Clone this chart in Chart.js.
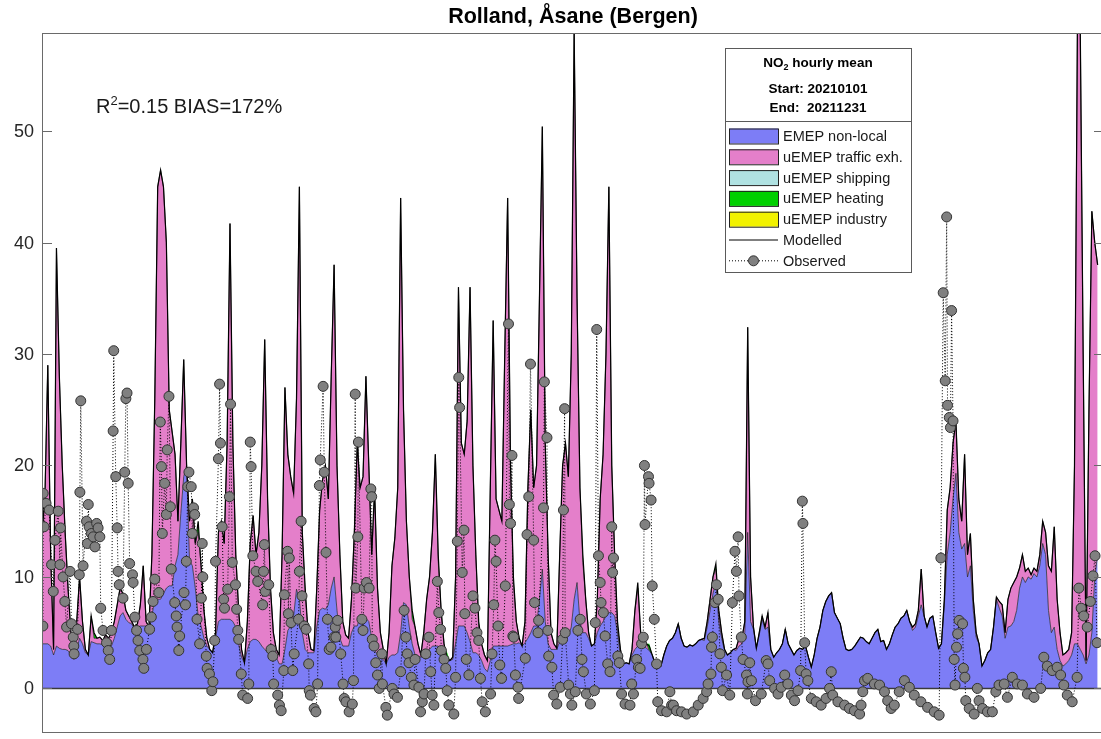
<!DOCTYPE html>
<html>
<head>
<meta charset="utf-8">
<title>Rolland, Åsane (Bergen)</title>
<script src="https://cdn.jsdelivr.net/npm/chart.js@4.4.1/dist/chart.umd.min.js"></script>
<style>
    html, body { margin: 0; padding: 0; overflow: hidden; background: #fff; }
    #wrap { position: relative; width: 1110px; height: 739px; }
</style>
</head>
<body>
<div id="wrap"><canvas id="myChartNO2"></canvas></div>
<script>
const TITLE = 'Rolland, Åsane (Bergen)'
const Y_TICKS = [0, 10, 20, 30, 40, 50]
const Y_MIN = -4.0
const Y_MAX = 58.8
const X_MAX = 367.2   // days, the right edge of the axes sits just outside the picture

// modelled total, one value per day (0..365)
const modelled = [
    14, 17, 29, 12, 3.5, 39.5, 28, 20, 14, 9,
    5, 2.8, 6, 10, 6, 3.5, 3, 6.5, 5, 4.5,
    4.6, 4.3, 4.8, 4.5, 5, 6, 7.5, 9, 8.5, 7,
    6.5, 6, 5.5, 5.8, 7.5, 11, 6, 5.5, 12, 26,
    45, 46.5, 45, 40, 25, 23, 21, 15, 22, 29.5,
    20, 15, 17, 13, 15, 11, 7, 4.5, 3.5, 3.2,
    5, 14, 15, 13, 22, 41.7, 22, 12, 7, 3.5,
    2.3, 6, 13, 15.5, 12, 14, 20, 31.3, 17, 9,
    5, 3.5, 3, 12, 27, 21, 19, 17.5, 26, 45,
    14, 9, 5, 3.5, 3.4, 9, 16, 18.7, 20, 17,
    28, 38, 20, 12, 6, 4.8, 4.5, 8, 14, 22,
    18, 19, 28, 20, 12, 18, 9, 5, 3.5, 2.2,
    5, 11, 13.5, 18, 44, 25, 15, 10, 7, 5.5,
    4, 3, 5, 8, 10, 14, 21, 12, 7, 4,
    2.8, 2.5, 2.8, 10, 36, 22, 21, 24, 36, 20,
    12, 6, 4, 3, 2.5, 18, 33, 17, 16, 15,
    30, 44, 20, 10, 6, 4.5, 3.8, 6, 18, 25,
    18, 20, 35, 50.4, 22, 12, 5, 4, 3.6, 12,
    20, 22, 19, 30, 59, 35, 18, 12, 8, 5,
    3.8, 4, 8, 17, 21, 30, 45, 20, 12, 6,
    3.5, 2.2, 2.3, 2.2, 3.5, 7, 9.5, 5, 4.5, 4,
    3.8, 3, 2.2, 1.8, 2, 3, 3.8, 4.3, 4.5, 5,
    5.8, 4.5, 3.8, 3.7, 3.9, 3.8, 4, 4.3, 4.4, 4.5,
    6, 8, 10, 11.2, 7, 5, 3.5, 3, 3.2, 3.5,
    3.6, 4.5, 4.5, 6, 32.4, 10, 5.5, 3.6, 5, 6.5,
    5.5, 6.8, 3.5, 2.8, 3.2, 3.5, 4, 5.3, 4, 3.5,
    3, 3.4, 3.6, 3.5, 3.8, 2.8, 1.9, 3, 4.5, 5.5,
    7, 7.8, 8.3, 8.6, 6.8, 6.3, 5.8, 4.5, 3.5, 3.4,
    3.5, 3.8, 4.2, 4.6, 4.5, 4.2, 4, 4.5, 5, 5.3,
    4.2, 4.3, 3.5, 4, 4.8, 5.5, 5.8, 6.3, 6.5, 7,
    6, 5.5, 5.8, 7, 10.7, 6.5, 5.5, 6.3, 6.5, 5,
    3.6, 4, 8, 16, 18, 22, 24, 17, 15, 21,
    12, 13.9, 8, 5, 4, 2, 2.5, 3.2, 3.5, 5.5,
    8.2, 7.8, 7.5, 5, 8, 9, 9.5, 10, 10.8, 12,
    10.5, 10.8, 10.2, 10.8, 10.5, 12, 15, 14, 11, 10.5,
    14.5, 8, 5, 3, 3.2, 3.5, 5, 20, 59, 59,
    30, 2.5, 25, 42.8, 40, 38
]

// EMEP non-local part, same days
const nonLocal = [
    4, 4, 4, 3.8, 3, 3.8, 3.6, 3.5, 3.5, 3.4,
    3, 2.6, 3.5, 4.5, 4, 3.2, 3, 4.2, 4.1, 4,
    4, 3.9, 3.8, 3.8, 3.8, 4.5, 5.5, 6.5, 6.8, 6.2,
    5.9, 5.8, 5.3, 5.5, 5.6, 5.6, 5.6, 5.3, 6.5, 8,
    8, 8, 8.5, 9, 9.2, 9.2, 11, 12, 15.7, 19,
    20, 11.5, 11, 9, 6.5, 5.6, 4.5, 3.8, 3.5, 3.2,
    4.5, 6, 6.2, 6.2, 6.2, 6.2, 6, 5.5, 4, 2.8,
    2.3, 3.5, 4.2, 4.4, 4.4, 4.2, 3.8, 3.5, 3.2, 3.2,
    3, 2.8, 2.2, 2.2, 3.5, 5.2, 5.6, 6.5, 8.9, 8,
    5, 3.5, 3.2, 3.2, 3.2, 5.5, 7, 7.2, 7.1, 7.5,
    9, 10, 7, 4.5, 3.8, 3.8, 3.8, 5, 5.6, 5.6,
    6.5, 6.5, 6.3, 6, 4.5, 3.5, 3, 2.8, 2.6, 2.2,
    2.8, 3, 3, 3.2, 5, 7.7, 7.5, 5.5, 4, 3,
    2.9, 2.8, 2.9, 3.2, 3.5, 3.8, 3.8, 3.8, 3.5, 3,
    2.8, 2.5, 2.6, 4, 5.6, 5.6, 5.6, 5, 4.2, 3.2,
    3.2, 3, 2.5, 1.8, 1.5, 2.5, 3.8, 3.8, 3.8, 3.8,
    3.8, 3.8, 3.9, 4, 4, 4.1, 3.8, 4.1, 4.5, 5,
    5.6, 5.6, 8, 10.7, 6, 4, 3.5, 3.5, 3.5, 4.2,
    4.7, 4.7, 4.7, 5.5, 8, 9.5, 6, 5, 5, 4.5,
    3.8, 4, 5, 5.6, 6, 6.5, 6.8, 6.8, 6.5, 5,
    2.8, 2.2, 2.3, 2.2, 3, 3.5, 3.8, 3.8, 3.8, 3.6,
    3.4, 3, 2.2, 1.8, 2, 3, 3.8, 4.3, 4.5, 5,
    5.8, 4.5, 3.8, 3.7, 3.9, 3.8, 4, 4.3, 4.4, 4.3,
    5.5, 7, 8.5, 9.5, 6, 4.5, 3.4, 3, 3.2, 3.5,
    3.4, 3.8, 4, 5, 14, 6, 5.3, 3.6, 4.8, 6.2,
    5.3, 5.5, 3.4, 2.8, 3.2, 3.5, 4, 5.3, 4, 3.5,
    3, 3.4, 3.6, 3.5, 3.8, 2.8, 1.9, 3, 4.5, 5.5,
    7, 7.8, 8.3, 8.6, 6.8, 6.3, 5.8, 4.5, 3.5, 3.4,
    3.5, 3.8, 4.2, 4.6, 4.5, 4.2, 4, 4.5, 5, 5.3,
    4.2, 4.3, 3.5, 4, 4.8, 5.5, 5.8, 6.3, 6.5, 7,
    6, 5.2, 5.5, 6.5, 7.5, 6.5, 5.5, 6.3, 6.5, 5,
    3.6, 4, 7.5, 12, 14, 17, 19.3, 14, 12.5, 13,
    10, 11, 7, 4.6, 4, 2, 2.5, 3.2, 3.5, 5.5,
    8, 7.2, 6.5, 4.5, 5.5, 5.6, 6, 7, 9, 10,
    9.5, 10, 9.8, 10.3, 10, 11, 13, 12, 7, 5,
    5.5, 3.5, 2.5, 2, 2.2, 2.5, 3, 4, 4, 3.5,
    3, 2.2, 3, 5, 10, 12
]

// small heating slivers (days and values), zero elsewhere
const heatingDays = [18, 54, 91, 115, 128, 137, 140, 151, 163, 187, 199, 206, 210, 233]
const heatingValues = [0.5, 1.0, 0.6, 0.6, 0.8, 0.6, 0.5, 0.6, 0.5, 0.7, 0.6, 0.5, 0.6, 0.5]

// observed
const obsDay = [
    0.3, 0.4, 0.7, 1.4, 2.5, 3.3, 3.9, 4.5, 5.6, 6.2,
    6.4, 7.3, 7.9, 8.5, 9.7, 10.2, 10.8, 11.0, 11.1, 12.3,
    12.9, 13.1, 13.4, 14.2, 15.4, 15.7, 16.0, 16.3, 17.1, 17.7,
    18.3, 18.9, 19.4, 20.0, 20.3, 21.1, 22.3, 22.9, 23.4, 24.0,
    24.6, 24.8, 25.5, 26.0, 26.3, 26.7, 28.0, 28.6, 29.0, 29.4,
    29.8, 30.3, 31.3, 31.5, 32.1, 32.7, 33.2, 33.8, 34.9, 35.2,
    36.1, 37.2, 37.8, 38.4, 39.0, 40.4, 40.9, 41.3, 41.6, 42.4,
    43.0, 43.3, 43.9, 44.4, 44.7, 45.9, 46.4, 46.7, 47.3, 47.6,
    49.1, 49.6, 49.9, 50.4, 50.8, 51.6, 52.0, 52.4, 52.8, 53.6,
    54.5, 55.1, 55.4, 55.6, 56.8, 57.1, 57.9, 58.7, 59.1, 59.7,
    60.0, 61.0, 61.4, 61.7, 62.3, 62.8, 63.1, 64.2, 64.8, 65.2,
    65.8, 66.9, 67.3, 67.7, 68.0, 68.9, 69.4, 71.1, 71.5, 72.0,
    72.3, 72.9, 74.0, 74.6, 76.3, 76.6, 76.9, 77.2, 78.4, 79.2,
    79.8, 80.1, 81.5, 82.1, 82.7, 83.6, 83.8, 84.9, 85.2, 85.5,
    86.1, 86.7, 87.2, 88.7, 89.0, 89.6, 89.9, 90.7, 91.3, 92.2,
    92.4, 92.8, 94.1, 94.7, 95.3, 95.9, 96.2, 97.2, 97.6, 98.2,
    98.7, 99.3, 99.9, 101.0, 101.4, 101.6, 102.2, 103.3, 104.1, 104.5,
    105.1, 106.2, 107.3, 107.7, 108.3, 108.5, 109.2, 109.4, 110.6, 111.0,
    111.4, 112.2, 113.1, 113.7, 114.0, 114.2, 114.8, 115.4, 116.0, 116.6,
    117.5, 117.7, 118.9, 119.4, 121.1, 121.7, 122.9, 124.0, 125.2, 125.8,
    126.3, 126.9, 127.7, 128.6, 129.0, 130.3, 130.9, 131.5, 132.1, 132.7,
    133.8, 134.4, 134.9, 135.5, 136.7, 137.2, 137.8, 138.1, 139.0, 139.6,
    140.1, 140.7, 142.4, 143.0, 143.6, 144.1, 144.4, 145.3, 145.9, 146.2,
    146.7, 147.6, 149.0, 149.7, 150.4, 151.0, 151.6, 152.2, 153.3, 155.1,
    155.6, 156.2, 156.6, 157.0, 157.7, 158.3, 158.9, 160.2, 161.3, 161.6,
    162.0, 162.5, 162.8, 163.1, 163.7, 164.6, 164.8, 167.1, 167.7, 168.3,
    168.9, 170.0, 170.3, 171.5, 171.7, 173.4, 173.7, 174.6, 174.9, 175.2,
    176.3, 176.9, 178.0, 179.2, 180.0, 180.3, 180.7, 180.9, 182.1, 182.7,
    183.2, 184.4, 185.3, 186.1, 186.7, 187.2, 188.2, 189.6, 191.0, 191.3,
    191.8, 192.4, 193.0, 193.3, 194.1, 194.7, 195.6, 196.4, 197.0, 197.3,
    197.6, 199.1, 199.6, 200.4, 201.6, 203.3, 203.9, 204.5, 205.6, 206.2,
    206.8, 207.3, 207.9, 208.3, 208.5, 209.7, 209.9, 210.6, 211.0, 211.7,
    212.5, 212.9, 214.2, 216.0, 217.1, 217.7, 218.3, 219.4, 221.1, 222.9,
    225.2, 226.9, 228.6, 229.8, 230.3, 231.3, 231.5, 231.8, 232.7, 233.2,
    233.8, 234.4, 234.9, 235.3, 236.7, 237.8, 238.7, 239.6, 240.1, 240.7,
    241.0, 241.8, 242.4, 243.6, 243.9, 244.1, 244.7, 245.3, 246.7, 248.7,
    250.4, 251.0, 251.6, 253.3, 254.5, 255.6, 256.8, 257.9, 259.1, 260.2,
    261.4, 262.3, 262.9, 263.1, 263.7, 264.2, 264.8, 266.0, 267.7, 269.4,
    271.1, 272.3, 272.9, 273.4, 275.2, 277.5, 279.2, 280.9, 282.7, 283.2,
    283.8, 284.4, 285.5, 287.8, 289.6, 291.3, 292.4, 293.6, 294.7, 296.4,
    298.2, 299.9, 301.6, 303.9, 306.2, 308.5, 310.2, 310.8, 311.6, 312.3,
    312.8, 313.1, 313.7, 314.1, 314.5, 315.0, 315.4, 315.7, 316.2, 316.6,
    317.1, 318.3, 318.6, 319.1, 319.4, 320.6, 322.3, 323.4, 324.0, 325.2,
    326.9, 328.6, 329.8, 330.9, 332.7, 333.8, 335.5, 337.2, 339.0, 340.7,
    343.0, 345.3, 346.4, 347.6, 349.3, 351.0, 352.2, 353.3, 354.5, 356.2,
    357.9, 358.5, 359.3, 360.2, 361.4, 362.5, 363.4, 364.1, 364.8
]
const obsValue = [
    5.6, 17.5, 14.5, 16.6, 16, 11.1, 8.7, 13.3, 15.9, 11.1,
    14.4, 10, 7.8, 5.5, 10.5, 5.8, 4.6, 3.8, 3.1, 5.3,
    10.2, 17.6, 25.8, 11, 15, 13, 16.5, 14.5, 13.9, 13.6,
    12.7, 14.8, 14.4, 13.6, 7.2, 5.2, 4.1, 3.4, 2.6, 5.2,
    23.1, 30.3, 19, 14.4, 10.5, 9.3, 8.1, 19.4, 26, 26.5,
    18.4, 11.2, 10.2, 9.5, 6.4, 5.2, 4.3, 3.4, 2.6, 1.8,
    3.5, 5.3, 6.4, 7.8, 9.8, 8.6, 23.9, 19.9, 13.9, 18.4,
    15.6, 21.4, 26.2, 16.3, 10.7, 7.7, 6.5, 5.5, 3.4, 4.7,
    8.6, 7.5, 11.4, 18.1, 19.4, 18.1, 13.9, 16.2, 15.6, 6.2,
    4, 8.1, 13, 10, 2.9, 1.8, 1.3, -0.2, 0.6, 4.3,
    11.4, 20.6, 27.3, 22, 14.5, 8, 7.2, 8.9, 17.2, 25.5,
    11.3, 9.3, 7.1, 5.2, 4.4, 1.3, -0.6, -0.9, 0.4, 22.1,
    19.9, 11.9, 10.5, 9.6, 7.5, 10.5, 12.9, 8.7, 9.3, 3.5,
    2.9, 0.4, -0.6, -1.5, -2, 1.6, 8.4, 12.3, 6.7, 11.7,
    5.9, 1.6, 3.1, 6.2, 10.5, 15, 8.3, 5.6, 5.3, 2.2,
    -0.2, -0.6, -1.8, -2.1, 0.4, 18.2, 20.5, 27.1, 19.4, 12.2,
    6.2, 3.5, 3.7, 4.6, 5.5, 4.6, 6.1, 3.1, 0.4, -0.9,
    -1.2, -2.1, -1.4, 0.7, 26.4, 9.0, 13.6, 22.1, 6.2, 5.2,
    9, 9.5, 9, 17.9, 17.2, 4.4, 3.8, 2.3, 1.2, 0,
    3.1, 0.4, -1.7, -2.4, 0, -0.5, -0.8, 1.5, 7, 4.6,
    3.1, 2.3, 1, 0.3, 2.6, 0.1, -2.1, -1.2, -0.5, 3.1,
    4.6, 1.5, -0.6, -1.5, 9.6, 6.8, 5.3, 3.4, 2.6, 1.8,
    -0.2, -1.5, -2.3, 1, 13.2, 27.9, 25.2, 10.4, 14.2, 6.7,
    2.6, 1.2, 8.3, 7.2, 5, 4.3, 0.9, -1.2, -2.1, -0.5,
    3.1, 7.5, 13.3, 11.4, 5.6, 2.1, 0.9, 9.2, 32.7, 16.5,
    14.8, 20.9, 4.7, 4.6, 1.2, 0.1, -0.9, 2.7, 13.8, 17.2,
    29.1, 13.3, 7.7, 5, 6.1, 16.2, 27.5, 22.5, 5.2, 2.9,
    1.9, -0.6, -1.4, 0.1, 4.4, 16, 25.1, 5, 0.3, -0.5,
    -1.5, -0.3, 5.2, 6.2, 2.6, 1.5, -0.5, -1.4, -0.2, 5.9,
    32.2, 11.9, 9.5, 7.7, 6.8, 4.7, 2.2, 1.5, 14.5, 10.4,
    11.7, 2.9, 2.3, -0.5, -1.4, -1.5, 0.4, -0.5, 2.6, 1.9,
    1.8, 4, 4.6, 20, 14.7, 19, 18.4, 16.9, 9.2, 6.2,
    2.2, -1.2, -2, -2.1, -0.3, -1.5, -1.5, -2, -2.1, -2.3,
    -2.1, -1.5, -0.9, -0.3, 0.4, 1.3, 3.7, 4.6, 7.7, 9.3,
    8, 3.1, 1.9, -0.2, 1.2, -0.6, 7.7, 12.3, 10.5, 13.6,
    8.3, 4.6, 2.6, 1.2, -0.5, 0.6, 2.3, 0.7, -1.1, -0.5,
    2.5, 2.2, 0.7, 0, -0.5, 0.1, 1.2, 0.4, -0.6, -1.1,
    -0.2, 1.6, 16.8, 14.8, 4.1, 1.3, 0.7, -0.9, -1.2, -1.5,
    -0.9, 0, 1.5, -0.6, -1.2, -1.5, -1.8, -2, -2.3, -1.5,
    -0.3, 0.7, 0.9, 0.4, 0.3, -0.3, -1.1, -1.8, -1.5, -0.3,
    0.7, 0.1, -0.6, -1.2, -1.7, -2.1, -2.4, 11.7, 35.5, 27.6,
    42.3, 25.4, 24.3, 23.4, 33.9, 24, 2.6, 0.3, 3.7, 4.9,
    6.1, 5.8, 1.8, 1, -1.1, -1.8, -2.3, 0, -1.1, -1.8,
    -2.1, -2.1, -0.3, 0.3, 0.4, -0.8, 1, 0.4, 0.3, -0.5,
    -0.8, 0, 2.8, 2, 1.6, 1.9, 1.2, 0.3, -0.6, -1.2,
    1, 9, 7.2, 6.5, 5.5, 7.8, 10.1, 11.9, 4.1
]

const COLORS = {
    nonLocal: '#7d7df6',
    traffic: '#e47fca',
    shipping: '#b0e2e2',
    heating: '#00d000',
    industry: '#f2f200',
    obs: '#808080'
}
const FONT = '"Liberation Sans", Arial, Helvetica, sans-serif'

const heating = modelled.map((v, i) => {
    const k = heatingDays.indexOf(i)
    return k < 0 ? 0 : heatingValues[k]
})
const traffic = modelled.map((v, i) => Math.max(0, v - nonLocal[i] - heating[i]))
const asPoints = arr => arr.map((v, i) => ({x: i, y: v}))

const legendItems = [
    {label: 'EMEP non-local', type: 'box', color: COLORS.nonLocal},
    {label: 'uEMEP traffic exh.', type: 'box', color: COLORS.traffic},
    {label: 'uEMEP shipping', type: 'box', color: COLORS.shipping},
    {label: 'uEMEP heating', type: 'box', color: COLORS.heating},
    {label: 'uEMEP industry', type: 'box', color: COLORS.industry},
    {label: 'Modelled', type: 'line'},
    {label: 'Observed', type: 'obs'}
]

// axes box, inward ticks, labels, title, text and legend in the MATLAB look
const matlabFrame = {
    id: 'matlabFrame',
    beforeDatasetDraw(chart, args) {
        if (args.index !== 4) return
        const {ctx, chartArea} = chart
        const y0 = chart.scales.y.getPixelForValue(0)
        ctx.save()
        ctx.strokeStyle = '#3a3a3a'
        ctx.lineWidth = 1.5
        ctx.beginPath()
        ctx.moveTo(chartArea.left, y0)
        ctx.lineTo(chartArea.right, y0)
        ctx.stroke()
        ctx.restore()
    },
    afterDraw(chart) {
        const {ctx, chartArea: a} = chart
        const ys = chart.scales.y
        ctx.save()
        ctx.strokeStyle = '#6a6a6a'
        ctx.lineWidth = 1
        ctx.strokeRect(a.left + 0.5, a.top + 0.5, a.right - a.left, a.bottom - a.top - 1)
        ctx.fillStyle = '#262626'
        ctx.font = '18px ' + FONT
        ctx.textAlign = 'right'
        ctx.textBaseline = 'middle'
        Y_TICKS.forEach(v => {
            const y = Math.round(ys.getPixelForValue(v)) + 0.5
            ctx.beginPath()
            ctx.moveTo(a.left, y); ctx.lineTo(a.left + 10, y)
            ctx.moveTo(a.right, y); ctx.lineTo(a.right - 10, y)
            ctx.stroke()
            ctx.fillText(String(v), a.left - 8, y + 1)
        })

        // title
        ctx.fillStyle = '#000'
        ctx.textAlign = 'center'
        ctx.textBaseline = 'alphabetic'
        ctx.font = 'bold 21.5px ' + FONT
        ctx.fillText(TITLE, (a.left + a.right) / 2, 23)

        // statistics text
        ctx.textAlign = 'left'
        ctx.fillStyle = '#1a1a1a'
        ctx.font = '20px ' + FONT
        let tx = 96
        ctx.fillText('R', tx, 113)
        tx += ctx.measureText('R').width
        ctx.font = '13px ' + FONT
        ctx.fillText('2', tx, 105)
        tx += ctx.measureText('2').width
        ctx.font = '20px ' + FONT
        ctx.fillText('=0.15 BIAS=172%', tx, 113)

        drawLegend(ctx)
        ctx.restore()
    }
}

function drawLegend(ctx) {
    const L = 725, T = 48, R = 911, B = 272, SPLIT = 121
    ctx.fillStyle = '#fff'
    ctx.fillRect(L, T, R - L, B - T)
    ctx.strokeStyle = '#5a5a5a'
    ctx.lineWidth = 1
    ctx.strokeRect(L + 0.5, T + 0.5, R - L, B - T)
    ctx.beginPath()
    ctx.moveTo(L, SPLIT + 0.5); ctx.lineTo(R, SPLIT + 0.5)
    ctx.stroke()

    const cx = (L + R) / 2
    ctx.fillStyle = '#000'
    ctx.textBaseline = 'middle'
    ctx.textAlign = 'left'
    ctx.font = 'bold 13.5px ' + FONT
    const wa = ctx.measureText('NO').width
    const wc = ctx.measureText(' hourly mean').width
    ctx.font = 'bold 9px ' + FONT
    const wb = ctx.measureText('2').width
    let x0 = cx - (wa + wb + wc) / 2
    ctx.font = 'bold 13.5px ' + FONT
    ctx.fillText('NO', x0, 63)
    ctx.font = 'bold 9px ' + FONT
    ctx.fillText('2', x0 + wa, 68)
    ctx.font = 'bold 13.5px ' + FONT
    ctx.fillText(' hourly mean', x0 + wa + wb, 63)
    ctx.textAlign = 'center'
    ctx.fillText('Start: 20210101', cx, 89)
    ctx.fillText('End:  20211231', cx, 108)

    ctx.textAlign = 'left'
    ctx.font = '14.5px ' + FONT
    legendItems.forEach((item, i) => {
        const y = 136 + i * 20.8
        if (item.type === 'box') {
            ctx.fillStyle = item.color
            ctx.fillRect(729, y - 7.5, 49, 15)
            ctx.strokeStyle = '#222'
            ctx.strokeRect(729.5, y - 7, 49, 15)
        } else if (item.type === 'line') {
            ctx.strokeStyle = '#000'
            ctx.beginPath()
            ctx.moveTo(729, y); ctx.lineTo(778, y)
            ctx.stroke()
        } else {
            ctx.strokeStyle = '#000'
            ctx.setLineDash([1, 2])
            ctx.beginPath()
            ctx.moveTo(729, y); ctx.lineTo(778, y)
            ctx.stroke()
            ctx.setLineDash([])
            ctx.fillStyle = COLORS.obs
            ctx.strokeStyle = '#333'
            ctx.beginPath()
            ctx.arc(753.5, y, 5, 0, Math.PI * 2)
            ctx.fill(); ctx.stroke()
        }
        ctx.fillStyle = '#1a1a1a'
        ctx.fillText(item.label, 783, y + 1)
    })
}

var ctx = document.getElementById('myChartNO2')
var myChart = new Chart(ctx, {
    type: 'line',
    data: {
        datasets: [{
            label: 'EMEP non-local',
            data: asPoints(nonLocal),
            stack: 'sources',
            fill: 'origin',
            backgroundColor: COLORS.nonLocal,
            borderColor: '#202020',
            borderWidth: 0.7,
            order: 3
        }, {
            label: 'uEMEP traffic exh.',
            data: asPoints(traffic),
            stack: 'sources',
            fill: '-1',
            backgroundColor: COLORS.traffic,
            borderColor: '#202020',
            borderWidth: 0.7,
            order: 3
        }, {
            label: 'uEMEP heating',
            data: asPoints(heating),
            stack: 'sources',
            fill: '-1',
            backgroundColor: COLORS.heating,
            borderColor: 'rgba(0,0,0,0)',
            borderWidth: 0,
            order: 3
        }, {
            label: 'Modelled',
            data: asPoints(modelled),
            stack: 'modelled',
            fill: false,
            borderColor: '#000',
            borderWidth: 1.2,
            order: 1
        }, {
            label: 'Observed',
            data: obsDay.map((d, i) => ({x: d, y: obsValue[i]})),
            stack: 'observed',
            fill: false,
            borderColor: '#000',
            borderWidth: 1,
            borderDash: [1, 2],
            pointRadius: 5,
            pointBackgroundColor: COLORS.obs,
            pointBorderColor: '#333',
            pointBorderWidth: 1,
            order: 0
        }]
    },
    options: {
        responsive: true,
        maintainAspectRatio: false,
        animation: false,
        layout: { padding: { left: 42, top: 33, right: 3, bottom: 1 } },
        elements: { line: { tension: 0 }, point: { radius: 0 } },
        plugins: {
            legend: { display: false },
            tooltip: { enabled: false },
            title: { display: false }
        },
        scales: {
            x: { type: 'linear', min: 0, max: X_MAX, display: false },
            y: {
                type: 'linear', min: Y_MIN, max: Y_MAX, stacked: true, display: false,
                afterBuildTicks: s => { s.ticks = Y_TICKS.map(v => ({ value: v })) }
            }
        }
    },
    plugins: [matlabFrame]
})
</script>
</body>
</html>
